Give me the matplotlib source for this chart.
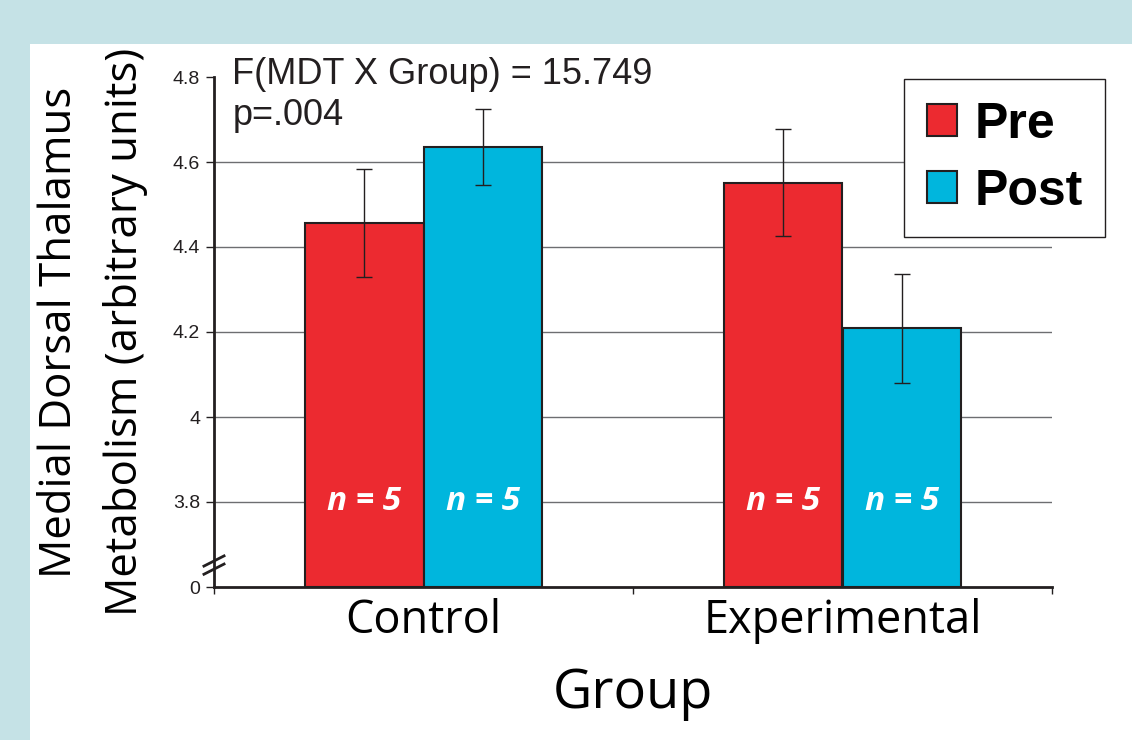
import numpy as np
import matplotlib.pyplot as plt
from matplotlib.patches import Rectangle

# data (axis broken: 3.6 shown as "0")
groups = ['Control', 'Experimental']
pre_vals = [4.456, 4.551]
post_vals = [4.635, 4.209]
pre_err = [0.127, 0.126]
post_err = [0.090, 0.128]
n_labels = ['n = 5', 'n = 5']
ytick_vals = [3.6, 3.8, 4.0, 4.2, 4.4, 4.6, 4.8]
ytick_labels = ['0', '3.8', '4', '4.2', '4.4', '4.6', '4.8']

red = '#ec2a30'
blue = '#00b6dd'
bg = '#c5e2e6'
font = ['Open Sans', 'DejaVu Sans']
font_arial = ['Liberation Sans', 'DejaVu Sans']

fig = plt.figure(figsize=(11.32, 7.4), dpi=100)
fig.patch.set_facecolor('white')
# light blue frame (top band and left band)
fig.add_artist(Rectangle((0, 1 - 44 / 740), 1, 44 / 740, transform=fig.transFigure,
                         facecolor=bg, edgecolor='none', zorder=0))
fig.add_artist(Rectangle((0, 0), 30 / 1132, 1, transform=fig.transFigure,
                         facecolor=bg, edgecolor='none', zorder=0))

ax = fig.add_axes([214 / 1132, 153 / 740, 838 / 1132, 510 / 740])
ax.set_facecolor('none')

x = np.arange(len(groups))
w = 0.284
bottom = 3.6
ax.bar(x - w / 2, np.array(pre_vals) - bottom, w, bottom=bottom, color=red,
       edgecolor='#231f20', linewidth=1.5, label='Pre', zorder=2)
ax.bar(x + w / 2, np.array(post_vals) - bottom, w, bottom=bottom, color=blue,
       edgecolor='#231f20', linewidth=1.5, label='Post', zorder=2)
ax.errorbar(x - w / 2, pre_vals, yerr=pre_err, fmt='none', ecolor='#231f20',
            elinewidth=1, capsize=6, capthick=1, zorder=3)
ax.errorbar(x + w / 2, post_vals, yerr=post_err, fmt='none', ecolor='#231f20',
            elinewidth=1, capsize=6, capthick=1, zorder=3)

for i in range(len(groups)):
    for dx in (-w / 2, w / 2):
        ax.text(x[i] + dx, 3.8, n_labels[i], ha='center', va='center', color='white',
                fontsize=24, fontweight='bold', style='italic', family=font, zorder=4)

ax.set_xlim(-0.5, 1.5)
ax.set_ylim(3.6, 4.8)
ax.set_yticks(ytick_vals)
ax.set_yticklabels(ytick_labels, family=font_arial, fontsize=14, color='#231f20')
for yv in ytick_vals[1:-1]:
    ax.axhline(yv, color='#6d6e71', linewidth=1, zorder=1)

ax.set_xticks([-0.5, 0.5, 1.5], minor=False)
ax.set_xticklabels([])
ax.set_xticks(x, minor=True)
ax.set_xticklabels(groups, minor=True, family=font, fontsize=32.5)
ax.tick_params(axis='x', which='minor', length=0, pad=8)
ax.tick_params(axis='x', which='major', length=5, width=1, color='#231f20')
ax.tick_params(axis='y', length=6, width=1, color='#231f20', pad=4)

for s in ('top', 'right'):
    ax.spines[s].set_visible(False)
for s in ('left', 'bottom'):
    ax.spines[s].set_linewidth(2)
    ax.spines[s].set_color('#231f20')

# axis break marks
for off in (0.0, 0.016):
    ax.plot([-0.012, 0.012], [0.025 + off, 0.045 + off], transform=ax.transAxes,
            color='#231f20', linewidth=2, clip_on=False, zorder=5)

ax.set_xlabel('Group', family=font, fontsize=39, labelpad=16)
ax.set_ylabel('Medial Dorsal Thalamus\nMetabolism (arbitrary units)', family=font,
              fontsize=31.5, linespacing=1.6, labelpad=18)

ax.text(0.022, 1.039, 'F(MDT X Group) = 15.749\np=.004', transform=ax.transAxes,
        ha='left', va='top', family=font_arial, fontsize=26, color='#231f20',
        linespacing=1.2)

leg = ax.legend(loc='upper right', bbox_to_anchor=(1.093, 1.045), frameon=True,
                fancybox=False, edgecolor='#231f20', framealpha=1,
                handlelength=0.6, handleheight=0.6,
                handletextpad=0.35, borderpad=0.45, labelspacing=0.42,
                prop={'family': font_arial, 'size': 36, 'weight': 'bold'})
leg.get_frame().set_linewidth(1)
leg.set_zorder(6)

plt.savefig('out.png', dpi=100)
